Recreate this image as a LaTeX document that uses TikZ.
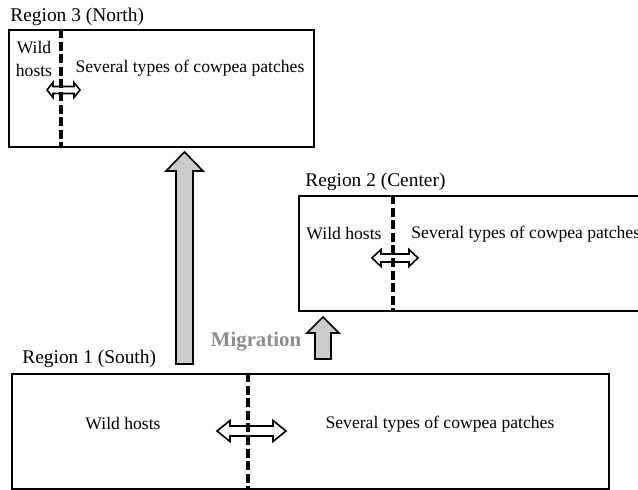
\documentclass[tikz,border=0pt]{standalone}
\usepackage{fontspec}
\setmainfont{Liberation Serif}
\usetikzlibrary{positioning}

\begin{document}
\begin{tikzpicture}[
    x=0.5pt, y=-0.5pt,
    font=\fontsize{8.8}{11.5}\selectfont,
    region/.style={
        rectangle, draw=black, line width=0.8pt, fill=white,
        anchor=north west, inner sep=0pt
    },
    regionlbl/.style={font=\fontsize{9.7}{11}\selectfont, anchor=base west, inner sep=0pt},
    txt/.style={inner sep=0pt, align=center},
    divider/.style={line width=1.8pt, dash pattern=on 4.5pt off 1.8pt},
    swap/.style={draw=black, line width=0.8pt, fill=white, line join=miter},
    flow/.style={draw=black, line width=0.8pt, fill=black!20, line join=miter},
    miglbl/.style={font=\fontsize{10.4}{12}\selectfont\bfseries, text=black!45, inner sep=0pt}
]
\useasboundingbox (0,0) rectangle (638,490);
\clip (0,0) rectangle (638,490);

% Region boxes
\node[region, minimum width=152.5pt, minimum height=58.5pt] (north) at (8,29) {};
\node[region, minimum width=176pt, minimum height=57.5pt] (center) at (298,195) {};
\node[region, minimum width=298.5pt, minimum height=57.5pt] (south) at (11,373) {};

% Region titles
\node[regionlbl] (northlbl) at (10,22) {Region 3 (North)};
\node[regionlbl] (centerlbl) at (305,187) {Region 2 (Center)};
\node[regionlbl] (southlbl) at (22,364) {Region 1 (South)};

% Habitat labels
\node[txt] (northwild) at (34,59) {Wild\\hosts};
\node[txt] (northcow) at (190,68) {Several types of cowpea patches};
\node[txt] (centerwild) at (344,234) {Wild hosts};
\node[txt, anchor=west] (centercow) at (411,234) {Several types of cowpea patches};
\node[txt] (southwild) at (123,424) {Wild hosts};
\node[txt] (southcow) at (440,424) {Several types of cowpea patches};

% Exchange between wild hosts and cowpea
\coordinate (northswap) at (63.5,90);
\coordinate (centerswap) at (395,258);
\coordinate (southswap) at (251.5,431);
\draw[swap] (northswap) ++(-16.5,0) -- ++(6,-7.5) -- ++(0,4) -- ++(21,0) -- ++(0,-4)
    -- ++(6,7.5) -- ++(-6,7.5) -- ++(0,-4) -- ++(-21,0) -- ++(0,4) -- cycle;
\draw[swap] (centerswap) ++(-23,0) -- ++(9,-8.5) -- ++(0,4.5) -- ++(28,0) -- ++(0,-4.5)
    -- ++(9,8.5) -- ++(-9,8.5) -- ++(0,-4.5) -- ++(-28,0) -- ++(0,4.5) -- cycle;
\draw[swap] (southswap) ++(-34.5,0) -- ++(13,-10.5) -- ++(0,5.5) -- ++(43,0) -- ++(0,-5.5)
    -- ++(13,10.5) -- ++(-13,10.5) -- ++(0,-5.5) -- ++(-43,0) -- ++(0,5.5) -- cycle;

% Boundary between wild hosts and cowpea patches (drawn over the exchange arrows)
\draw[divider] ([xshift=26.5pt]north.north west) -- ([xshift=26.5pt]north.south west);
\draw[divider] ([xshift=47.5pt]center.north west) -- ([xshift=47.5pt]center.south west);
\draw[divider] ([xshift=118.5pt]south.north west) -- ([xshift=118.5pt]south.south west);

% Migration between regions
\coordinate (tonorth) at (184.5,364);
\coordinate (tocenter) at (323,359);
\draw[flow] (tonorth) ++(-8.5,0) -- ++(0,-193) -- ++(-10,0) -- ++(18.5,-19)
    -- ++(18.5,19) -- ++(-10,0) -- ++(0,193) -- cycle;
\draw[flow] (tocenter) ++(-8,0) -- ++(0,-26) -- ++(-8,0) -- ++(16,-16)
    -- ++(16,16) -- ++(-8,0) -- ++(0,26) -- cycle;
\node[miglbl] (miglbl) at (256,342) {Migration};

\end{tikzpicture}
\end{document}
